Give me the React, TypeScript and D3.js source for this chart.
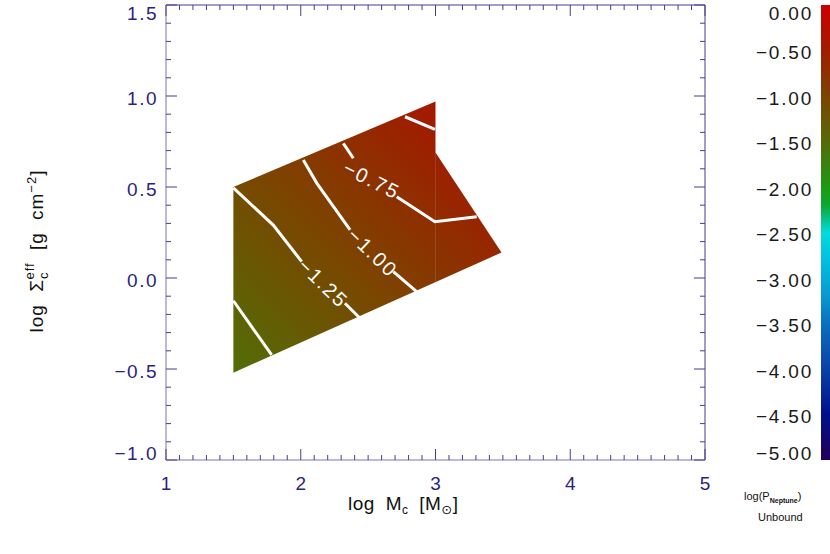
import React from 'react';
import * as d3 from 'd3';

// axis ticks
const xMajorTicks = [1, 2, 3, 4, 5];
const yMajorTicks = [-1.0, -0.5, 0.0, 0.5, 1.0, 1.5];
const cbTicks = [0, -0.5, -1.0, -1.5, -2.0, -2.5, -3.0, -3.5, -4.0, -4.5, -5.0];

// colour table of the bar (value -> colour)
const cbValues = [0, -0.5, -1.0, -1.5, -2.0, -2.2, -2.5, -2.8, -3.2, -3.5, -4.0, -4.5, -5.0];
const cbColors = ['#cc0000', '#a01c00', '#7c4400', '#566a06', '#1c9a14', '#0aa830', '#00dcdc', '#00c0e0', '#0898d0', '#0a70c0', '#0a40a8', '#00108a', '#200058'];

// model region (log Mc, log Sigma_eff)
const regionLogM = [1.5, 3.0, 3.0, 3.49, 1.5];
const regionLogSigma = [0.5, 0.97, 0.69, 0.14, -0.52];

// direction of the colour change across the region
const gradLogM = [1.29, 3.38];
const gradLogSigma = [-0.53, 0.99];
const gradValue = [-1.62, -0.3];

// contour lines, split where the labels sit
const contourLevels = [-1.5, -1.25, -1.0, -0.75, -0.5];
const contourSegments: [number, number][][][] = [
  [[[1.5, -0.125], [1.784, -0.423]]],
  [
    [[1.5, 0.495], [1.796, 0.291], [2.007, 0.09]],
    [[2.328, -0.139], [2.44, -0.221]],
  ],
  [
    [[2.019, 0.648], [2.12, 0.52], [2.366, 0.264]],
    [[2.687, 0.035], [2.86, -0.075]],
  ],
  [
    [[2.316, 0.74], [2.39, 0.658]],
    [[2.712, 0.447], [2.996, 0.309], [3.306, 0.337]],
  ],
  [[[2.774, 0.886], [2.996, 0.817]]],
];
const labelText = ['\u22121.25', '\u22121.00', '\u22120.75'];
const labelLogM = [2.167, 2.534, 2.527];
const labelLogSigma = [-0.029, 0.139, 0.538];
const labelAngle = [44, 44, 27];

const W = 830;
const H = 554;
const FONT = 'Liberation Sans, DejaVu Sans, sans-serif';
const AXIS_DARK = '#4b3b8f';
const AXIS_LIGHT = '#aaa0cf';
const TICK_TEXT = '#2e1f7a';

const fmt = (v: number, n: number) => v.toFixed(n).replace('-', '\u2212');

export default function App() {
  const x = d3.scaleLinear().domain([1, 5]).range([166, 705]);
  const y = d3.scaleLinear().domain([-1, 1.5]).range([460, 5]);
  const cbY = d3.scaleLinear().domain([0, -5]).range([5, 460]);
  const cmap = d3
    .scaleLinear<string>()
    .domain(cbValues)
    .range(cbColors)
    .interpolate(d3.interpolateRgb)
    .clamp(true);

  const [x0, x1] = [x.range()[0], x.range()[1]];
  const [yb, yt] = [y.range()[0], y.range()[1]];

  const xMinor = d3.range(10, 51).map((d) => d / 10);
  const yMinor = d3.range(-10, 16).map((d) => d / 10);

  const line = d3
    .line<[number, number]>()
    .x((d) => x(d[0]))
    .y((d) => y(d[1]));

  const regionPath =
    'M' + regionLogM.map((m, i) => `${x(m)},${y(regionLogSigma[i])}`).join('L') + 'Z';

  const gradStops = d3.range(0, 1.0001, 0.05).map((t) => ({
    t,
    c: cmap(gradValue[0] + t * (gradValue[1] - gradValue[0])),
  }));
  const cbStops = d3.range(0, 1.0001, 0.02).map((t) => ({ t, c: cmap(-5 * t) }));

  const labelY = (v: number, first: boolean, last: boolean, scale: (n: number) => number) => {
    if (first) return scale(v) + 8;
    if (last) return scale(v) - 7;
    return scale(v) + 2;
  };

  return (
    <svg
      width={W}
      height={H}
      style={{ position: 'absolute', left: 0, top: 0, background: '#fff' }}
      fontFamily={FONT}
    >
      <defs>
        <linearGradient
          id="regionFill"
          gradientUnits="userSpaceOnUse"
          x1={x(gradLogM[0])}
          y1={y(gradLogSigma[0])}
          x2={x(gradLogM[1])}
          y2={y(gradLogSigma[1])}
        >
          {gradStops.map((s, i) => (
            <stop key={i} offset={s.t} stopColor={s.c} />
          ))}
        </linearGradient>
        <linearGradient id="cbFill" x1="0" y1="0" x2="0" y2="1">
          {cbStops.map((s, i) => (
            <stop key={i} offset={s.t} stopColor={s.c} />
          ))}
        </linearGradient>
      </defs>

      {/* filled model region */}
      <path d={regionPath} fill="url(#regionFill)" />
      <line
        x1={x(3.0)}
        x2={x(3.0)}
        y1={y(0.69)}
        y2={y(-0.12)}
        stroke="#ffffff"
        strokeOpacity={0.12}
        strokeWidth={1}
      />

      {/* contours */}
      {contourSegments.map((segs, ci) =>
        segs.map((seg, si) => (
          <path
            key={`${contourLevels[ci]}-${si}`}
            d={line(seg) || ''}
            fill="none"
            stroke="#ffffff"
            strokeWidth={3}
          />
        ))
      )}
      {labelText.map((t, i) => (
        <text
          key={t}
          transform={`translate(${x(labelLogM[i])},${y(labelLogSigma[i])}) rotate(${labelAngle[i]})`}
          textAnchor="middle"
          dy="0.35em"
          fontSize={20}
          fill="#ffffff"
          letterSpacing={2}
        >
          {t}
        </text>
      ))}

      {/* frame */}
      <line x1={x0} x2={x1} y1={yt} y2={yt} stroke={AXIS_DARK} strokeWidth={1} />
      <line x1={x1} x2={x1} y1={yt} y2={yb} stroke={AXIS_DARK} strokeWidth={1} />
      <line x1={x0} x2={x1} y1={yb} y2={yb} stroke={AXIS_LIGHT} strokeWidth={1.5} />
      <line x1={x0} x2={x0} y1={yt} y2={yb} stroke={AXIS_LIGHT} strokeWidth={1.5} />

      {/* x ticks, bottom and top */}
      {xMinor.map((v) => {
        const major = Math.abs(v - Math.round(v)) < 1e-6;
        const len = major ? 11 : 5;
        return (
          <g key={`xt${v}`} stroke={AXIS_DARK} strokeWidth={1}>
            <line x1={x(v)} x2={x(v)} y1={yb} y2={yb - len} />
            <line x1={x(v)} x2={x(v)} y1={yt} y2={yt + len} />
          </g>
        );
      })}
      {/* y ticks, left and right */}
      {yMinor.map((v) => {
        const major = Math.abs(v * 2 - Math.round(v * 2)) < 1e-6;
        const len = major ? 11 : 5;
        return (
          <g key={`yt${v}`} stroke={AXIS_DARK} strokeWidth={1}>
            <line x1={x0} x2={x0 + len} y1={y(v)} y2={y(v)} />
            <line x1={x1} x2={x1 - len} y1={y(v)} y2={y(v)} />
          </g>
        );
      })}

      {/* tick labels */}
      {xMajorTicks.map((v) => (
        <text key={`xl${v}`} x={x(v)} y={483} dy="0.35em" textAnchor="middle" fontSize={19} fill={TICK_TEXT}>
          {v}
        </text>
      ))}
      {yMajorTicks.map((v, i) => (
        <text
          key={`yl${v}`}
          x={158}
          y={labelY(v, i === yMajorTicks.length - 1, i === 0, y)}
          dy="0.35em"
          textAnchor="end"
          fontSize={19}
          fill={TICK_TEXT}
          letterSpacing={1.5}
        >
          {fmt(v, 1)}
        </text>
      ))}

      {/* axis titles */}
      <text x={348} y={510} fontSize={19} fill="#111" letterSpacing={0.5} wordSpacing={5}>
        log M
        <tspan fontSize={12} dy={4}>c</tspan>
        <tspan dy={-4}>{' [M'}</tspan>
        <tspan fontSize={13} dy={4}>{'\u2299'}</tspan>
        <tspan dy={-4}>]</tspan>
      </text>
      <text
        transform="translate(43,251) rotate(-90)"
        textAnchor="middle"
        fontSize={19}
        fill="#111"
        letterSpacing={1}
        wordSpacing={6}
      >
        {'log \u03a3'}
        <tspan fontSize={13} dy={5}>c</tspan>
        <tspan fontSize={13} dx={-8} dy={-14}>eff</tspan>
        <tspan dy={9}>{' [g cm'}</tspan>
        <tspan fontSize={13} dy={-7}>{'\u22122'}</tspan>
        <tspan dy={7}>]</tspan>
      </text>

      {/* colour bar */}
      <rect x={821} y={cbY(0)} width={12} height={cbY(-5) - cbY(0)} fill="url(#cbFill)" />
      {cbTicks.map((v, i) => (
        <text
          key={`cb${v}`}
          x={813}
          y={labelY(v, i === 0, i === cbTicks.length - 1, cbY)}
          dy="0.35em"
          textAnchor="end"
          fontSize={19}
          fill="#1a1a1a"
          letterSpacing={1.8}
        >
          {fmt(v, 2)}
        </text>
      ))}
      <text x={744} y={500} fontSize={11} fill="#111">
        log(P
        <tspan fontSize={7} fontWeight="bold" dy={3}>Neptune</tspan>
        <tspan dy={-3}>)</tspan>
      </text>
      <text x={758} y={521} fontSize={11} fill="#111">
        Unbound
      </text>
    </svg>
  );
}
